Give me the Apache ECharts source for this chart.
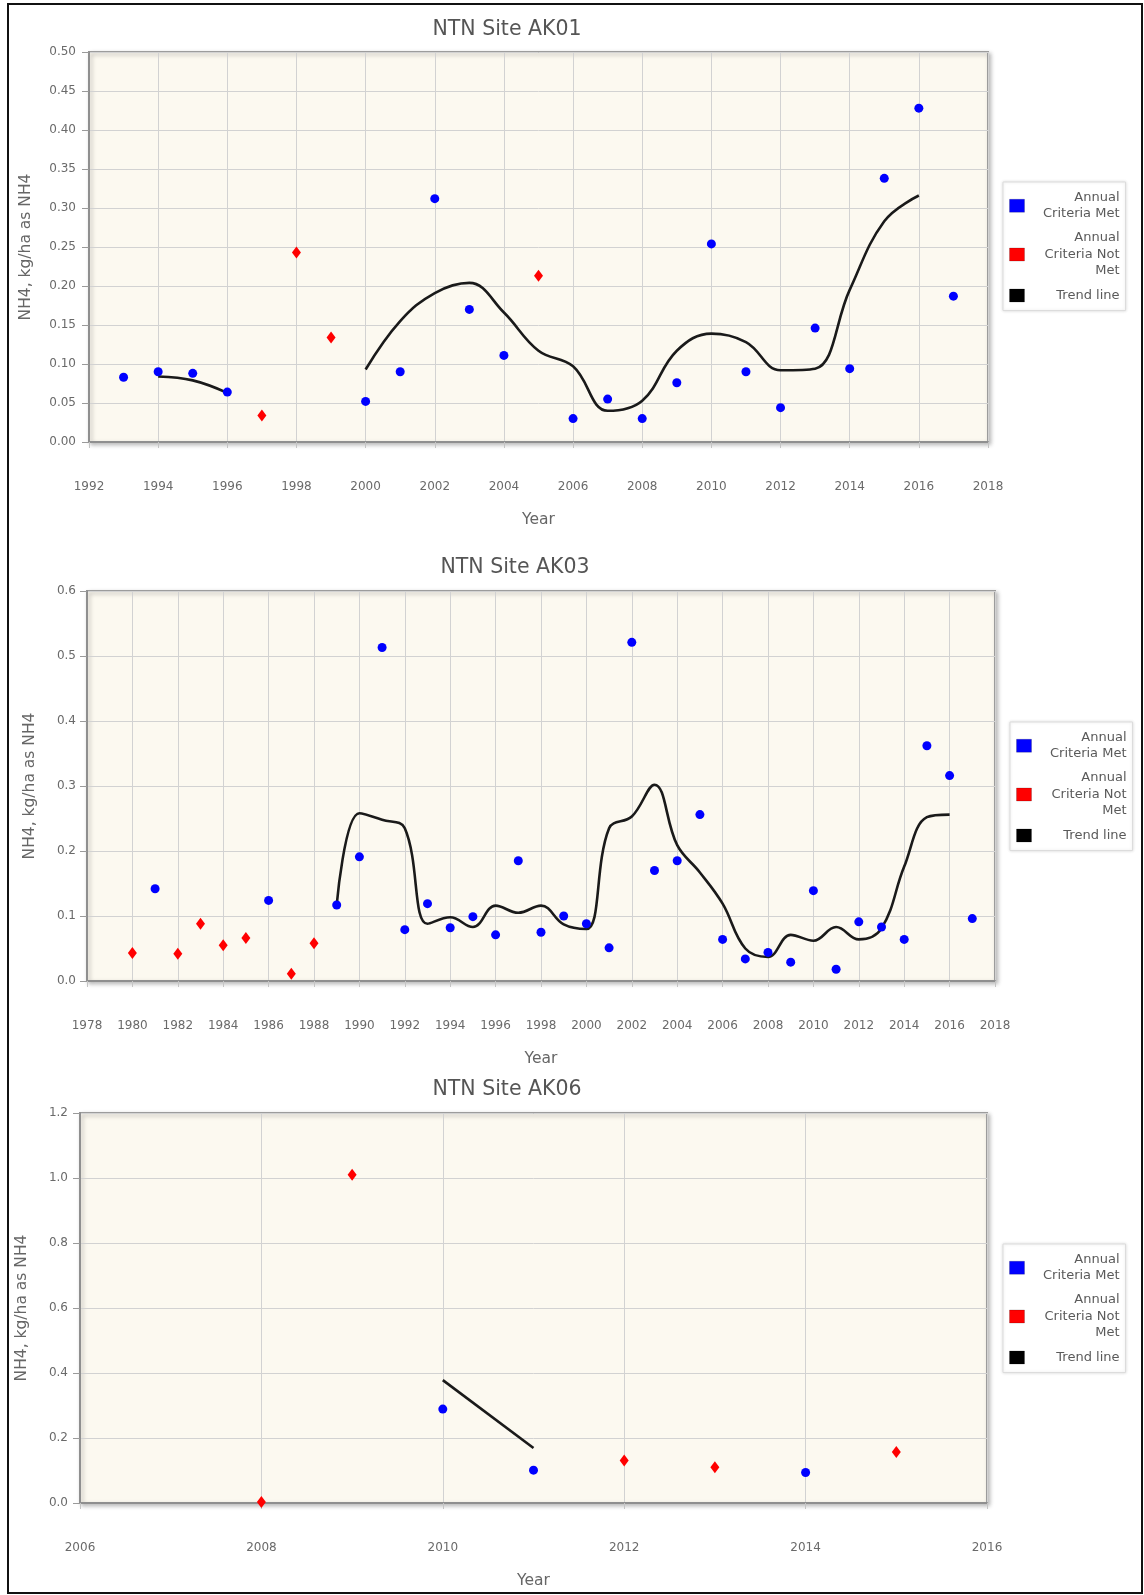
<!DOCTYPE html>
<html>
<head>
<meta charset="utf-8">
<script src="https://cdn.jsdelivr.net/npm/echarts@6/dist/echarts.min.js"></script>
<style>
html,body{margin:0;padding:0;background:#fff;}
#c{width:1144px;height:1595px;}
</style>
</head>
<body>
<div id="c"></div>
<script>
// ---------- DATA ----------
// AK01
const AK01_MET_YEARS = [1993,1994,1995,1996,2000,2001,2002,2003,2004,2006,2007,2008,2009,2010,2011,2012,2013,2014,2015,2016,2017];
const AK01_MET_VALUES = [0.083,0.090,0.088,0.064,0.052,0.090,0.312,0.170,0.111,0.030,0.055,0.030,0.076,0.254,0.090,0.044,0.146,0.094,0.338,0.428,0.187];
const AK01_NOTMET_YEARS = [1997,1998,1999,2005];
const AK01_NOTMET_VALUES = [0.034,0.243,0.134,0.213];
const AK01_TREND_A_YEARS = [1994,1995,1996];
const AK01_TREND_A_VALUES = [0.084,0.079,0.063];
const AK01_TREND_B_YEARS = [2000,2001,2002,2003,2004,2005,2006,2007,2008,2009,2010,2011,2012,2013,2014,2015,2016];
const AK01_TREND_B_VALUES = [0.093,0.155,0.191,0.204,0.166,0.117,0.097,0.040,0.053,0.117,0.139,0.128,0.092,0.094,0.195,0.283,0.316];
const AK01_X_TICKS = [1992,2018,2];
const AK01_Y_TICKS = [0,0.5,0.05];

// AK03
const AK03_MET_YEARS = [1981,1986,1989,1990,1991,1992,1993,1994,1995,1996,1997,1998,1999,2000,2001,2002,2003,2004,2005,2006,2007,2008,2009,2010,2011,2012,2013,2014,2015,2016,2017];
const AK03_MET_VALUES = [0.142,0.124,0.117,0.191,0.513,0.079,0.119,0.082,0.099,0.071,0.185,0.075,0.100,0.088,0.051,0.521,0.170,0.185,0.256,0.064,0.034,0.044,0.029,0.139,0.018,0.091,0.083,0.064,0.362,0.316,0.096];
const AK03_NOTMET_YEARS = [1980,1982,1983,1984,1985,1987,1988];
const AK03_NOTMET_VALUES = [0.043,0.042,0.088,0.055,0.066,0.011,0.058];
const AK03_TREND_YEARS = [1989,1990,1991,1992,1993,1994,1995,1996,1997,1998,1999,2000,2001,2002,2003,2004,2005,2006,2007,2008,2009,2010,2011,2012,2013,2014,2015,2016];
const AK03_TREND_VALUES = [0.117,0.258,0.248,0.235,0.088,0.098,0.083,0.116,0.105,0.116,0.087,0.080,0.235,0.253,0.302,0.209,0.167,0.119,0.050,0.037,0.071,0.062,0.083,0.064,0.081,0.176,0.252,0.256];
const AK03_X_TICKS = [1978,2018,2];
const AK03_Y_TICKS = [0,0.6,0.1];

// AK06
const AK06_MET_YEARS = [2010,2011,2014];
const AK06_MET_VALUES = [0.289,0.101,0.094];
const AK06_NOTMET_YEARS = [2008,2009,2012,2013,2015];
const AK06_NOTMET_VALUES = [0.003,1.010,0.131,0.110,0.157];
const AK06_TREND_YEARS = [2010,2011];
const AK06_TREND_VALUES = [0.378,0.169];
const AK06_X_TICKS = [2006,2016,2];
const AK06_Y_TICKS = [0,1.2,0.2];

const TITLES = ['NTN Site AK01','NTN Site AK03','NTN Site AK06'];
const SERIES_NAMES = ['Annual Criteria Met','Annual Criteria Not Met','Trend line'];
const LEGEND_LINES = {
  'Annual Criteria Met': ['Annual','Criteria Met'],
  'Annual Criteria Not Met': ['Annual','Criteria Not','Met'],
  'Trend line': ['Trend line']
};
const Y_NAME = 'NH4, kg/ha as NH4';
const X_NAME = 'Year';

// ---------- LAYOUT ----------
const FONT = '"DejaVu Sans", Verdana, sans-serif';
const zip = (a, b) => a.map((v, i) => [v, b[i]]);

const panels = [
  { grid:{left:89, top:52, width:899, height:390}, title:{x:507, y:19},
    legend:{left:1003, top:182}, xMargin:39, yMargin:13, xNameGap:70, yNameGap:55, yDec:2,
    xt:AK01_X_TICKS, yt:AK01_Y_TICKS,
    met:zip(AK01_MET_YEARS,AK01_MET_VALUES), notmet:zip(AK01_NOTMET_YEARS,AK01_NOTMET_VALUES),
    trends:[zip(AK01_TREND_A_YEARS,AK01_TREND_A_VALUES), zip(AK01_TREND_B_YEARS,AK01_TREND_B_VALUES)] },
  { grid:{left:87, top:591, width:908, height:390}, title:{x:515, y:557},
    legend:{left:1010, top:722}, xMargin:39, yMargin:11, xNameGap:70, yNameGap:49, yDec:1,
    xt:AK03_X_TICKS, yt:AK03_Y_TICKS,
    met:zip(AK03_MET_YEARS,AK03_MET_VALUES), notmet:zip(AK03_NOTMET_YEARS,AK03_NOTMET_VALUES),
    trends:[zip(AK03_TREND_YEARS,AK03_TREND_VALUES)] },
  { grid:{left:80, top:1113, width:907, height:390}, title:{x:507, y:1079},
    legend:{left:1003, top:1244}, xMargin:39, yMargin:12, xNameGap:70, yNameGap:50, yDec:1,
    xt:AK06_X_TICKS, yt:AK06_Y_TICKS,
    met:zip(AK06_MET_YEARS,AK06_MET_VALUES), notmet:zip(AK06_NOTMET_YEARS,AK06_NOTMET_VALUES),
    trends:[zip(AK06_TREND_YEARS,AK06_TREND_VALUES)] }
];

const option = {
  animation:false,
  backgroundColor:'#ffffff',
  title:[], legend:[], grid:[], xAxis:[], yAxis:[], series:[],
  graphic:[{
    type:'rect', shape:{x:8, y:4, width:1134, height:1589},
    style:{fill:'none', stroke:'#111', lineWidth:2}, silent:true, z:100
  }]
};

panels.forEach((p, i) => {
  option.title.push({
    text:TITLES[i], left:p.title.x, top:p.title.y, textAlign:'center', padding:0,
    textStyle:{fontFamily:FONT, fontSize:20.5, fontWeight:'normal', color:'#555'}
  });
  option.grid.push(Object.assign({
    show:true, backgroundColor:'#fcf9f0', borderColor:'#9c9c9c', borderWidth:2,
    shadowColor:'rgba(0,0,0,0.25)', shadowBlur:4, shadowOffsetX:2, shadowOffsetY:2
  }, p.grid));
  option.xAxis.push({
    type:'value', gridIndex:i, min:p.xt[0], max:p.xt[1], interval:p.xt[2],
    name:X_NAME, nameLocation:'middle', nameGap:p.xNameGap,
    nameTextStyle:{fontFamily:FONT, fontSize:15.5, color:'#666'},
    axisLine:{show:true, onZero:false, lineStyle:{color:'#8f8f8f', width:2}},
    axisTick:{show:true, length:6, lineStyle:{color:'#c4c4c4'}},
    splitLine:{show:true, lineStyle:{color:'#d2d2d2', width:1}},
    axisLabel:{margin:p.xMargin, color:'#6a6a6a', fontFamily:FONT, fontSize:12,
      formatter:v => String(v), showMinLabel:true, showMaxLabel:true}
  });
  option.yAxis.push({
    type:'value', gridIndex:i, min:p.yt[0], max:p.yt[1], interval:p.yt[2],
    name:Y_NAME, nameLocation:'middle', nameGap:p.yNameGap, nameRotate:90,
    nameTextStyle:{fontFamily:FONT, fontSize:15.5, color:'#666'},
    axisLine:{show:true, lineStyle:{color:'#8f8f8f', width:2}},
    axisTick:{show:true, length:7, lineStyle:{color:'#9a9a9a'}},
    splitLine:{show:true, lineStyle:{color:'#d2d2d2', width:1}},
    axisLabel:{margin:p.yMargin, color:'#6a6a6a', fontFamily:FONT, fontSize:12,
      formatter:v => Number(v).toFixed(p.yDec)}
  });
  option.legend.push({
    orient:'vertical', left:p.legend.left, top:p.legend.top,
    padding:[9,6,8,6], itemGap:11, itemWidth:15, itemHeight:13,
    backgroundColor:'#ffffff', borderColor:'#dcdcdc', borderWidth:1,
    shadowColor:'rgba(0,0,0,0.12)', shadowBlur:3,
    selectedMode:false,
    itemStyle:{borderColor:'rgba(0,0,0,0.18)', borderWidth:1},
    data:SERIES_NAMES.map(n => ({name:n, icon:'rect'})),
    formatter:name => LEGEND_LINES[name].map(s => '{r|' + s + '}').join('\n'),
    textStyle:{
      fontFamily:FONT, fontSize:13, color:'#555',
      rich:{ r:{ width:90, align:'right', fontFamily:FONT, fontSize:13, lineHeight:16.5, color:'#5a5a5a' } }
    }
  });
  p.trends.forEach(t => {
    option.series.push({
      name:'Trend line', type:'line', xAxisIndex:i, yAxisIndex:i, data:t,
      smooth:0.4, showSymbol:false, symbol:'none', color:'#000',
      lineStyle:{color:'#1a1a1a', width:2.6}, z:2
    });
  });
  option.series.push({
    name:'Annual Criteria Met', type:'scatter', xAxisIndex:i, yAxisIndex:i, data:p.met,
    symbol:'circle', symbolSize:9, color:'#0000ff', itemStyle:{color:'#0000ff', opacity:1}, z:3
  });
  option.series.push({
    name:'Annual Criteria Not Met', type:'scatter', xAxisIndex:i, yAxisIndex:i, data:p.notmet,
    symbol:'diamond', symbolSize:[9,12], color:'#ff0000', itemStyle:{color:'#ff0000', opacity:1}, z:3
  });
});

const chart = echarts.init(document.getElementById('c'), null, {renderer:'canvas'});
chart.setOption(option);
</script>
</body>
</html>
